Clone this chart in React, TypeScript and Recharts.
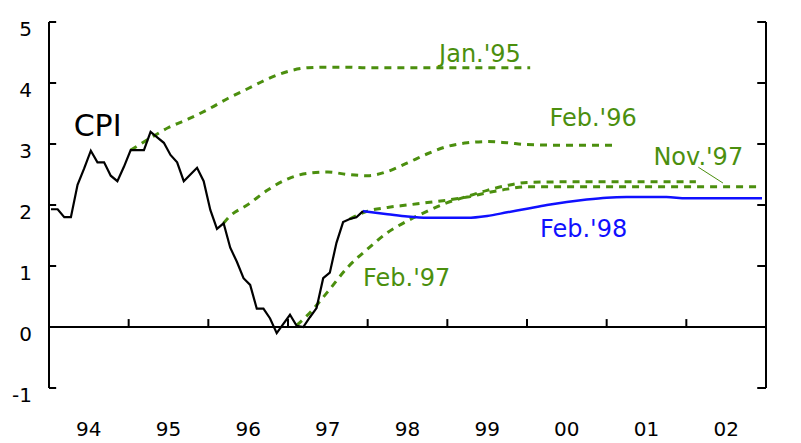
import { LineChart, Line, XAxis, YAxis, ReferenceLine, ReferenceDot } from 'recharts'

// monthly CPI (y/y %), Jan.'94 .. Dec.'97
const cpiValues = [
  1.93, 1.93, 1.8, 1.8, 2.33, 2.6, 2.89, 2.7, 2.7, 2.48, 2.39, 2.63,
  2.9, 2.9, 2.9, 3.2, 3.11, 3.02, 2.82, 2.7, 2.39, 2.5, 2.61, 2.39,
  1.92, 1.61, 1.7, 1.3, 1.07, 0.8, 0.69, 0.3, 0.3, 0.14, -0.1, 0.05,
  0.2, 0.02, 0.0, 0.16, 0.31, 0.8, 0.89, 1.38, 1.72, 1.77, 1.8, 1.9,
]

// forecast paths
const jan95Times = [1995.025, 1995.25, 1995.5, 1995.75, 1996, 1996.25, 1996.5, 1996.75, 1997, 1997.25, 1997.5, 1997.75, 1998, 1998.5, 1999, 1999.5, 2000.04]
const jan95Values = [2.9, 3.08, 3.27, 3.41, 3.57, 3.75, 3.91, 4.07, 4.19, 4.25, 4.26, 4.26, 4.25, 4.25, 4.25, 4.25, 4.25]

const feb96Times = [1996.19, 1996.25, 1996.5, 1996.75, 1997, 1997.25, 1997.5, 1997.75, 1998, 1998.25, 1998.5, 1998.75, 1999, 1999.25, 1999.5, 1999.75, 2000, 2000.5, 2001.13]
const feb96Values = [1.7, 1.79, 2.01, 2.25, 2.43, 2.52, 2.54, 2.5, 2.48, 2.55, 2.69, 2.84, 2.96, 3.02, 3.04, 3.02, 2.99, 2.98, 2.98]

const feb97Times = [1997.11, 1997.25, 1997.5, 1997.75, 1998, 1998.25, 1998.5, 1998.75, 1999, 1999.25, 1999.5, 1999.75, 2000, 2000.5, 2001, 2001.5, 2002.12]
const feb97Values = [0.03, 0.2, 0.58, 0.98, 1.28, 1.55, 1.74, 1.9, 2.04, 2.14, 2.24, 2.32, 2.37, 2.38, 2.38, 2.38, 2.38]

const nov97Times = [1997.775, 1998, 1998.25, 1998.5, 1998.75, 1999, 1999.25, 1999.5, 1999.75, 2000, 2000.5, 2001, 2001.5, 2002, 2002.5, 2002.92]
const nov97Values = [1.77, 1.9, 1.96, 2.0, 2.04, 2.08, 2.13, 2.2, 2.26, 2.3, 2.3, 2.3, 2.3, 2.3, 2.3, 2.3]

const feb98Times = [1997.94, 1998.25, 1998.5, 1998.75, 1999, 1999.25, 1999.5, 1999.75, 2000, 2000.25, 2000.5, 2000.75, 2001, 2001.25, 2001.5, 2001.75, 2002, 2002.5, 2002.95]
const feb98Values = [1.9, 1.85, 1.81, 1.79, 1.79, 1.79, 1.82, 1.88, 1.94, 2.0, 2.05, 2.09, 2.12, 2.13, 2.13, 2.13, 2.11, 2.11, 2.11]

const yearLabelTicks = [1994.5, 1995.5, 1996.5, 1997.5, 1998.5, 1999.5, 2000.5, 2001.5, 2002.5]
const yearBoundaries = [1995, 1996, 1997, 1998, 1999, 2000, 2001, 2002]
const yTicks = [-1, 0, 1, 2, 3, 4, 5]

const GREEN = '#4b8f0e'
const BLUE = '#1010ff'

const zip = (ts: number[], vs: number[]) => ts.map((t, i) => ({ t, v: vs[i] }))
const cpiData = cpiValues.map((v, i) => ({ t: 1994 + (i + 0.3) / 12, v }))

const LeftTick = ({ x, y, payload }: any) => (
  <text x={x - 17} y={y + 7} textAnchor="end" dominantBaseline="central" fontSize={20} fill="#000">
    {payload.value}
  </text>
)

const RightTick = ({ x, y, payload }: any) => (
  <text x={x + 15} y={y + 7} textAnchor="start" dominantBaseline="central" fontSize={20} fill="#000">
    {payload.value}
  </text>
)

const YearTick = ({ x, y, payload }: any) => (
  <text x={x} y={y + 41} textAnchor="middle" dominantBaseline="central" fontSize={20} fill="#000">
    {String(Math.floor(payload.value) % 100).padStart(2, '0')}
  </text>
)

const lbl = (value: string, fill: string, fontSize = 24) => ({ value, position: 'center' as const, fill, fontSize })

const dashed = { type: 'monotone' as const, stroke: GREEN, strokeWidth: 3, strokeDasharray: '7 6', dot: false, isAnimationActive: false }

export default function App() {
  return (
    <div style={{ position: 'absolute', left: 0, top: 0, background: '#fff', fontFamily: '"DejaVu Sans", sans-serif' }}>
      <LineChart width={801} height={443} margin={{ top: 22, right: 0, bottom: 0, left: 0 }}>
        <XAxis
          type="number"
          dataKey="t"
          domain={[1994, 2003]}
          ticks={yearLabelTicks}
          allowDataOverflow
          axisLine={false}
          tickLine={false}
          tickSize={0}
          tickMargin={0}
          height={55}
          tick={<YearTick />}
        />
        <YAxis
          yAxisId="left"
          domain={[-1, 5]}
          ticks={yTicks}
          width={49}
          axisLine={false}
          tickLine={false}
          tickSize={0}
          tickMargin={0}
          tick={<LeftTick />}
        />
        <YAxis
          yAxisId="right"
          orientation="right"
          domain={[-1, 5]}
          ticks={yTicks}
          width={35}
          axisLine={false}
          tickLine={false}
          tickSize={0}
          tickMargin={0}
          tick={<RightTick />}
        />
        {/* frame: both vertical axes and the zero line */}
        <ReferenceLine yAxisId="left" x={1994} stroke="#000" strokeWidth={2} />
        <ReferenceLine yAxisId="left" x={2003} stroke="#000" strokeWidth={2} />
        <ReferenceLine yAxisId="left" y={0} stroke="#000" strokeWidth={2} />
        {yearBoundaries.map(yr => (
          <ReferenceLine
            key={yr}
            yAxisId="left"
            segment={[{ x: yr, y: 0 }, { x: yr, y: 0.13 }]}
            stroke="#000"
            strokeWidth={2}
          />
        ))}
        {yTicks.map(v => (
          <ReferenceLine
            key={'l' + v}
            yAxisId="left"
            segment={[{ x: 1994, y: v }, { x: 1994.09, y: v }]}
            stroke="#000"
            strokeWidth={2}
          />
        ))}
        {yTicks.map(v => (
          <ReferenceLine
            key={'r' + v}
            yAxisId="left"
            segment={[{ x: 2002.89, y: v }, { x: 2003, y: v }]}
            stroke="#000"
            strokeWidth={2}
          />
        ))}

        <Line yAxisId="left" data={zip(jan95Times, jan95Values)} dataKey="v" {...dashed} />
        <Line yAxisId="left" data={zip(feb96Times, feb96Values)} dataKey="v" {...dashed} />
        <Line yAxisId="left" data={zip(feb97Times, feb97Values)} dataKey="v" {...dashed} />
        <Line yAxisId="left" data={zip(nov97Times, nov97Values)} dataKey="v" {...dashed} />
        <Line yAxisId="left" data={zip(feb98Times, feb98Values)} dataKey="v" type="monotone" stroke={BLUE} strokeWidth={2.5} dot={false} isAnimationActive={false} />
        <Line yAxisId="left" data={cpiData} dataKey="v" type="linear" stroke="#000" strokeWidth={2.2} dot={false} isAnimationActive={false} />

        <ReferenceLine
          yAxisId="left"
          segment={[{ x: 2002.15, y: 2.62 }, { x: 2002.46, y: 2.36 }]}
          stroke={GREEN}
          strokeWidth={1}
        />
        <ReferenceDot yAxisId="left" x={1994.61} y={3.31} r={0} fill="none" stroke="none" label={lbl('CPI', '#000', 30)} />
        <ReferenceDot yAxisId="left" x={1999.41} y={4.49} r={0} fill="none" stroke="none" label={lbl("Jan.'95", GREEN)} />
        <ReferenceDot yAxisId="left" x={2000.83} y={3.44} r={0} fill="none" stroke="none" label={lbl("Feb.'96", GREEN)} />
        <ReferenceDot yAxisId="left" x={2002.15} y={2.79} r={0} fill="none" stroke="none" label={lbl("Nov.'97", GREEN)} />
        <ReferenceDot yAxisId="left" x={2000.71} y={1.62} r={0} fill="none" stroke="none" label={lbl("Feb.'98", BLUE)} />
        <ReferenceDot yAxisId="left" x={1998.49} y={0.82} r={0} fill="none" stroke="none" label={lbl("Feb.'97", GREEN)} />
      </LineChart>
    </div>
  )
}
